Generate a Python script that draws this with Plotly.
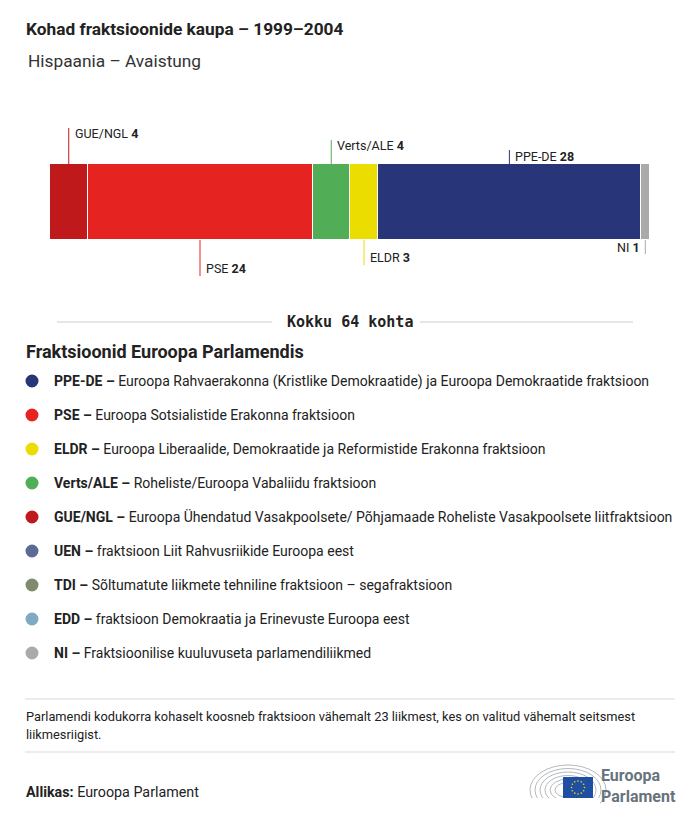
import math
import plotly.graph_objects as go

W, H = 700, 818
OFF = 8  # page body margin offset

# ---- data ----
parties = ["GUE/NGL", "PSE", "Verts/ALE", "ELDR", "PPE-DE", "NI"]
seats = [4, 24, 4, 3, 28, 1]
party_colors = ["#c0191c", "#e52421", "#51ad56", "#ebdd00", "#283579", "#aaaaaa"]
line_colors = ["#c0191c", "#e52421", "#51ad56", "#ebdd00", "#283579", "#aaaaaa"]

legend_codes = ["PPE-DE", "PSE", "ELDR", "Verts/ALE", "GUE/NGL", "UEN", "TDI", "EDD", "NI"]
legend_desc = [
    "Euroopa Rahvaerakonna (Kristlike Demokraatide) ja Euroopa Demokraatide fraktsioon",
    "Euroopa Sotsialistide Erakonna fraktsioon",
    "Euroopa Liberaalide, Demokraatide ja Reformistide Erakonna fraktsioon",
    "Roheliste/Euroopa Vabaliidu fraktsioon",
    "Euroopa Ühendatud Vasakpoolsete/ Põhjamaade Roheliste Vasakpoolsete liitfraktsioon",
    "fraktsioon Liit Rahvusriikide Euroopa eest",
    "Sõltumatute liikmete tehniline fraktsioon – segafraktsioon",
    "fraktsioon Demokraatia ja Erinevuste Euroopa eest",
    "Fraktsioonilise kuuluvuseta parlamendiliikmed",
]
legend_colors = ["#283579", "#e52421", "#ebdd00", "#51ad56", "#c0191c",
                 "#5b6b97", "#818a6c", "#7eaac3", "#aaaaaa"]

title = "Kohad fraktsioonide kaupa – 1999–2004"
subtitle = "Hispaania – Avaistung"
legend_title = "Fraktsioonid Euroopa Parlamendis"
note_lines = ["Parlamendi kodukorra kohaselt koosneb fraktsioon vähemalt 23 liikmest, kes on valitud vähemalt seitsmest",
              "liikmesriigist."]
source_label = "Allikas:"
source_text = "Euroopa Parlament"

# label styling: side of bar, line end pixel y, label pixel y, anchor
label_side = ["up", "down", "up", "down", "up", "down"]
line_end_y = [128, 276, 140, 265, 150, 254]
label_y = [134, 269, 146, 257, 157, 247]
label_anchor = ["left", "left", "left", "left", "left", "right"]

FONT = "Roboto"
TXT = "#222222"


def px(x):
    return (x - OFF) / W


def py(y):
    return 1 - (y - OFF) / H


BAR_TOP, BAR_BOT = 164, 240

fig = go.Figure()
for p, s, c in zip(parties, seats, party_colors):
    fig.add_trace(go.Bar(
        x=[s], y=[0], orientation="h", name=p, width=1,
        marker=dict(color=c, line=dict(color="white", width=1)),
        hoverinfo="skip", showlegend=False,
    ))

shapes = []
annotations = []

# leader lines and labels
cum = 0
for i, (p, s) in enumerate(zip(parties, seats)):
    center = cum + s / 2
    cum += s
    if label_side[i] == "up":
        y0, y1 = py(BAR_TOP), py(line_end_y[i])
    else:
        y0, y1 = py(BAR_BOT), py(line_end_y[i])
    shapes.append(dict(type="line", xref="x", yref="paper", x0=center, x1=center,
                       y0=y0, y1=y1, line=dict(color=line_colors[i], width=1)))
    annotations.append(dict(
        xref="x", yref="paper", x=center, y=py(label_y[i]),
        xshift=4 if label_anchor[i] == "left" else -3,
        text=f"{p} <b>{s}</b>", showarrow=False,
        xanchor=label_anchor[i], yanchor="middle",
        font=dict(family=FONT, size=12.5, color=TXT),
    ))

# title & subtitle
annotations.append(dict(xref="paper", yref="paper", x=px(24), y=py(29), text=f"<b>{title}</b>",
                        showarrow=False, xanchor="left", yanchor="middle",
                        font=dict(family=FONT, size=17.3, color=TXT)))
annotations.append(dict(xref="paper", yref="paper", x=px(26), y=py(61), text=subtitle,
                        showarrow=False, xanchor="left", yanchor="middle",
                        font=dict(family=FONT, size=17.3, color="#333333")))

# total
total = sum(seats)
annotations.append(dict(xref="paper", yref="paper", x=px(350), y=py(322),
                        text=f"<b>Kokku {total} kohta</b>", showarrow=False,
                        xanchor="center", yanchor="middle",
                        font=dict(family="DejaVu Sans Mono", size=15, color=TXT)))
for xa, xb in [(57, 272), (420, 633)]:
    shapes.append(dict(type="line", xref="paper", yref="paper", x0=px(xa), x1=px(xb),
                       y0=py(322), y1=py(322), line=dict(color="#cccccc", width=1)))

# legend
annotations.append(dict(xref="paper", yref="paper", x=px(24), y=py(352), text=f"<b>{legend_title}</b>",
                        showarrow=False, xanchor="left", yanchor="middle",
                        font=dict(family=FONT, size=18, color=TXT)))
for i, (code, desc, col) in enumerate(zip(legend_codes, legend_desc, legend_colors)):
    yc = 381 + 34 * i
    r = 6.5
    shapes.append(dict(type="circle", xref="paper", yref="paper",
                       x0=px(32 - r), x1=px(32 + r), y0=py(yc - r), y1=py(yc + r),
                       fillcolor=col, line=dict(width=0)))
    annotations.append(dict(xref="paper", yref="paper", x=px(52), y=py(yc),
                            text=f"<b>{code} –</b> {desc}", showarrow=False,
                            xanchor="left", yanchor="middle",
                            font=dict(family=FONT, size=14, color=TXT)))

# footer
for yl in (699, 752):
    shapes.append(dict(type="line", xref="paper", yref="paper", x0=px(25), x1=px(675),
                       y0=py(yl), y1=py(yl), line=dict(color="#d9d9d9", width=1)))
for j, t in enumerate(note_lines):
    annotations.append(dict(xref="paper", yref="paper", x=px(24), y=py(716 + 18 * j), text=t,
                            showarrow=False, xanchor="left", yanchor="middle",
                            font=dict(family=FONT, size=12.8, color=TXT)))
annotations.append(dict(xref="paper", yref="paper", x=px(24), y=py(792),
                        text=f"<b>{source_label}</b> {source_text}", showarrow=False,
                        xanchor="left", yanchor="middle",
                        font=dict(family=FONT, size=14.3, color=TXT)))

# logo: hemicycle arcs
cx, cy = 568, 790
for k in range(6):
    rx = 38 - k * 5
    ry = 25 - k * 3.5
    shapes.append(dict(type="circle", xref="paper", yref="paper",
                       x0=px(cx - rx), x1=px(cx + rx), y0=py(cy - ry), y1=py(cy + ry),
                       line=dict(color="#b5b9bd", width=1)))
shapes.append(dict(type="rect", xref="paper", yref="paper", x0=px(525), x1=px(600),
                   y0=py(798), y1=py(820), fillcolor="white", line=dict(width=0)))
shapes.append(dict(type="rect", xref="paper", yref="paper", x0=px(563), x1=px(593),
                   y0=py(777), y1=py(798), fillcolor="#1e4fa3", line=dict(width=0)))
stars_x = [578 + 6.5 * math.cos(2 * math.pi * k / 12) for k in range(12)]
stars_y = [787.5 + 6.5 * math.sin(2 * math.pi * k / 12) for k in range(12)]
for sx, sy in zip(stars_x, stars_y):
    shapes.append(dict(type="circle", xref="paper", yref="paper",
                       x0=px(sx - 0.8), x1=px(sx + 0.8), y0=py(sy - 0.8), y1=py(sy + 0.8),
                       fillcolor="#f3d400", line=dict(width=0)))
annotations.append(dict(xref="paper", yref="paper", x=px(599), y=py(786),
                        text="<b>Euroopa</b><br><b>Parlament</b>", showarrow=False,
                        xanchor="left", yanchor="middle", align="left",
                        font=dict(family=FONT, size=16, color="#67737d")))

fig.update_layout(
    width=W, height=H, margin=dict(l=0, r=0, t=0, b=0),
    paper_bgcolor="white", plot_bgcolor="white",
    barmode="stack", bargap=0,
    xaxis=dict(domain=[px(50), px(650)], range=[0, total], visible=False, fixedrange=True),
    yaxis=dict(domain=[py(BAR_BOT), py(BAR_TOP)], range=[-0.5, 0.5], visible=False, fixedrange=True),
    shapes=shapes, annotations=annotations, showlegend=False,
)

fig.write_html("out.html")
